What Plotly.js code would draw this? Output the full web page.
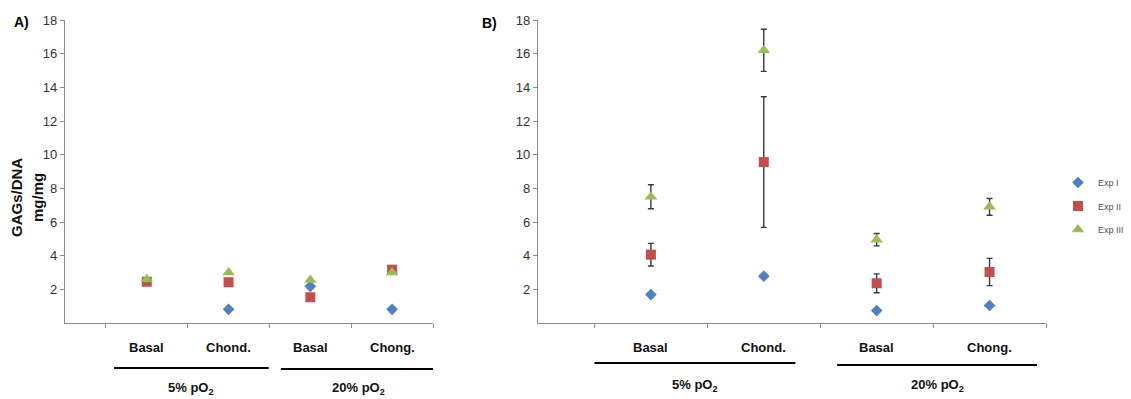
<!DOCTYPE html>
<html>
<head>
<meta charset="utf-8">
<script src="https://cdn.plot.ly/plotly-3.0.1.min.js"></script>
<style>html,body{margin:0;padding:0;background:#fff;}#chart{width:1131px;height:399px;}</style>
</head>
<body>
<div id="chart"></div>
<script>
// ---- data ----
const categories = ['Basal', 'Chond.', 'Basal', 'Chong.'];
const groupLabels = ['5% pO<sub>2</sub>', '20% pO<sub>2</sub>'];
const xPos = [1, 2, 3, 4];
const seriesNames = ['Exp I', 'Exp II', 'Exp III'];

const A_exp1 = [null, 0.81, 2.18, 0.81];
const A_exp2 = [2.45, 2.42, 1.53, 3.17];
const A_exp3 = [2.6, 3.0, 2.55, 3.0];

const B_exp1 = [1.69, 2.78, 0.74, 1.04];
const B_exp2 = [4.06, 9.56, 2.36, 3.03];
const B_exp2_err = [0.67, 3.88, 0.56, 0.81];
const B_exp3 = [7.5, 16.2, 4.95, 6.9];
const B_exp3_err = [0.71, 1.25, 0.37, 0.5];

const yTicks = [2, 4, 6, 8, 10, 12, 14, 16, 18];
const xBoundaries = [0.5, 1.5, 2.5, 3.5, 4.5];

// ---- styles ----
const colors = ['#4F81BD', '#C0504D', '#9BBB59'];
const symbols = ['diamond', 'square', 'triangle-up'];
const sizes = [9, 10, 11];
const font = 'Liberation Sans, Arial, sans-serif';

function mk(name, i, y, xa, ya, err, showleg) {
  const t = {
    type: 'scatter', mode: 'markers', name: name,
    x: xPos, y: y, xaxis: xa, yaxis: ya,
    marker: {color: colors[i], symbol: symbols[i], size: sizes[i], line: {width: 0}},
    showlegend: showleg, legendgroup: 'g' + i, cliponaxis: false
  };
  if (err) {
    t.error_y = {type: 'data', array: err, visible: true, color: '#3a3a3a', thickness: 1.4, width: 3};
  }
  return t;
}

const data = [
  mk(seriesNames[0], 0, A_exp1, 'x', 'y', null, false),
  mk(seriesNames[1], 1, A_exp2, 'x', 'y', null, false),
  mk(seriesNames[2], 2, A_exp3, 'x', 'y', null, false),
  mk(seriesNames[0], 0, B_exp1, 'x2', 'y2', null, true),
  mk(seriesNames[1], 1, B_exp2, 'x2', 'y2', B_exp2_err, true),
  mk(seriesNames[2], 2, B_exp3, 'x2', 'y2', B_exp3_err, true)
];

const W = 1131, H = 399;
const yDom = [1 - 323 / H, 1 - 20 / H];

function xaxis(d) {
  return {
    domain: d, range: [0, 4.5], showgrid: false, zeroline: false,
    showline: true, linecolor: '#8c8c8c', linewidth: 1.2,
    tickmode: 'array', tickvals: xBoundaries, ticktext: xBoundaries.map(() => ''),
    ticks: 'outside', ticklen: 4, tickcolor: '#8c8c8c', fixedrange: true, automargin: false
  };
}
function yaxis(anchor) {
  return {
    domain: yDom, range: [0, 18], anchor: anchor, showgrid: false, zeroline: false,
    showline: true, linecolor: '#8c8c8c', linewidth: 1.2,
    tickmode: 'array', tickvals: yTicks, ticks: 'outside', ticklen: 4, tickcolor: '#8c8c8c',
    tickfont: {family: font, size: 13, color: '#333'}, fixedrange: true, automargin: false
  };
}

const annotations = [];
const shapes = [];
const catY = 1 - 347 / H;
const panels = [
  {xref: 'x', groups: [[0.6, 2.49], [2.64, 4.55]], lineY: [368, 369], labY: 388},
  {xref: 'x2', groups: [[0.5, 2.28], [2.65, 4.42]], lineY: [363, 365], labY: 385}
];
panels.forEach(p => {
  categories.forEach((c, i) => {
    annotations.push({xref: p.xref, yref: 'paper', x: xPos[i], y: catY, text: '<b>' + c + '</b>',
      showarrow: false, font: {family: font, size: 13, color: '#111'}, xanchor: 'center', yanchor: 'middle'});
  });
  p.groups.forEach((g, j) => {
    shapes.push({type: 'line', xref: p.xref, yref: 'paper', x0: g[0], x1: g[1],
      y0: 1 - p.lineY[j] / H, y1: 1 - p.lineY[j] / H, line: {color: '#000', width: 2}});
    annotations.push({xref: p.xref, yref: 'paper', x: (g[0] + g[1]) / 2, y: 1 - p.labY / H,
      text: '<b>' + groupLabels[j] + '</b>', showarrow: false,
      font: {family: font, size: 13, color: '#111'}, xanchor: 'center', yanchor: 'middle'});
  });
});
annotations.push({xref: 'paper', yref: 'paper', x: 12 / W, y: 1 - 22 / H, text: '<b>A)</b>', showarrow: false,
  xanchor: 'left', yanchor: 'middle', font: {family: font, size: 14, color: '#000'}});
annotations.push({xref: 'paper', yref: 'paper', x: 480 / W, y: 1 - 23 / H, text: '<b>B)</b>', showarrow: false,
  xanchor: 'left', yanchor: 'middle', font: {family: font, size: 14, color: '#000'}});
annotations.push({xref: 'paper', yref: 'paper', x: 16 / W, y: 1 - 198 / H, text: '<b>GAGs/DNA</b>', showarrow: false,
  textangle: -90, xanchor: 'center', yanchor: 'middle', font: {family: font, size: 15, color: '#111'}});
annotations.push({xref: 'paper', yref: 'paper', x: 37 / W, y: 1 - 198 / H, text: '<b>mg/mg</b>', showarrow: false,
  textangle: -90, xanchor: 'center', yanchor: 'middle', font: {family: font, size: 15, color: '#111'}});

const layout = {
  width: W, height: H, margin: {l: 0, r: 0, t: 0, b: 0, autoexpand: false},
  paper_bgcolor: '#fff', plot_bgcolor: '#fff',
  xaxis: xaxis([65 / W, 433 / W]), yaxis: yaxis('x'),
  xaxis2: xaxis([538 / W, 1046 / W]), yaxis2: yaxis('x2'),
  showlegend: true,
  legend: {x: 1058 / W, y: 1 - 168 / H, xanchor: 'left', yanchor: 'top',
    font: {family: font, size: 9, color: '#5a4a5a'}, tracegroupgap: 4.5,
    itemwidth: 30, bgcolor: 'rgba(0,0,0,0)'},
  annotations: annotations, shapes: shapes
};

Plotly.newPlot('chart', data, layout, {displayModeBar: false, staticPlot: true});
</script>
</body>
</html>
